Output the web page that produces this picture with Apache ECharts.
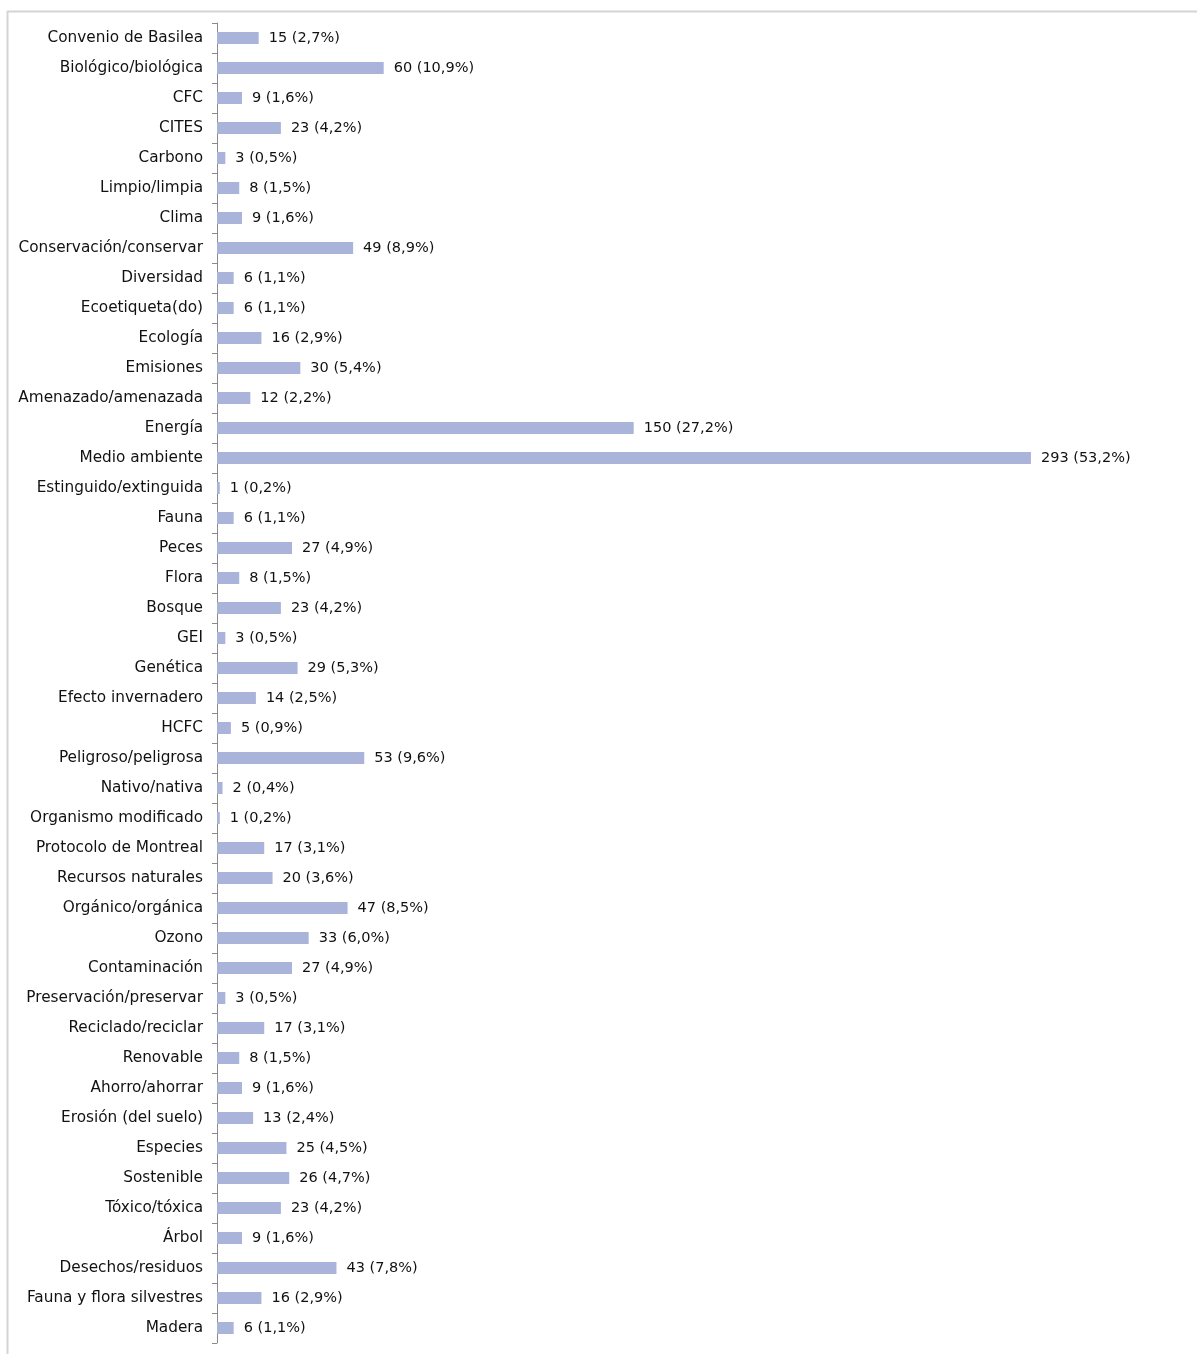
<!DOCTYPE html>
<html>
<head>
<meta charset="utf-8">
<script src="https://cdn.jsdelivr.net/npm/echarts@6/dist/echarts.min.js"></script>
<style>
html,body{margin:0;padding:0;background:#fff;}
#chart{width:1197px;height:1354px;}
</style>
</head>
<body>
<div id="chart"></div>
<script>
const categories = [
  "Convenio de Basilea","Biológico/biológica","CFC","CITES","Carbono","Limpio/limpia","Clima",
  "Conservación/conservar","Diversidad","Ecoetiqueta(do)","Ecología","Emisiones","Amenazado/amenazada",
  "Energía","Medio ambiente","Estinguido/extinguida","Fauna","Peces","Flora","Bosque","GEI","Genética",
  "Efecto invernadero","HCFC","Peligroso/peligrosa","Nativo/nativa","Organismo modificado",
  "Protocolo de Montreal","Recursos naturales","Orgánico/orgánica","Ozono","Contaminación",
  "Preservación/preservar","Reciclado/reciclar","Renovable","Ahorro/ahorrar","Erosión (del suelo)",
  "Especies","Sostenible","Tóxico/tóxica","Árbol","Desechos/residuos","Fauna y flora silvestres","Madera"
];
const counts = [15,60,9,23,3,8,9,49,6,6,16,30,12,150,293,1,6,27,8,23,3,29,14,5,53,2,1,17,20,47,33,27,3,17,8,9,13,25,26,23,9,43,16,6];
const percents = ["2,7","10,9","1,6","4,2","0,5","1,5","1,6","8,9","1,1","1,1","2,9","5,4","2,2","27,2","53,2","0,2","1,1","4,9","1,5","4,2","0,5","5,3","2,5","0,9","9,6","0,4","0,2","3,1","3,6","8,5","6,0","4,9","0,5","3,1","1,5","1,6","2,4","4,5","4,7","4,2","1,6","7,8","2,9","1,1"];

const chart = echarts.init(document.getElementById('chart'));
const FONT = 'DejaVu Sans, Verdana, sans-serif';
chart.setOption({
  animation: false,
  backgroundColor: '#fff',
  graphic: [
    {type:'line', shape:{x1:7,y1:11.5,x2:1197,y2:11.5}, style:{stroke:'#d4d4d4', lineWidth:2}},
    {type:'line', shape:{x1:7.5,y1:11,x2:7.5,y2:1354}, style:{stroke:'#d4d4d4', lineWidth:2}}
  ],
  grid: {left: 217, top: 23, width: 972.3, height: 1320, containLabel: false},
  xAxis: {type:'value', min:0, max:350, show:false},
  yAxis: {
    type:'category', inverse:true, data: categories,
    axisLine:{show:true, lineStyle:{color:'#8a8a8a', width:1}},
    axisTick:{show:true, length:5, lineStyle:{color:'#8a8a8a'}},
    axisLabel:{color:'#111', fontSize:15.3, fontFamily:FONT, margin:14}
  },
  series: [{
    type:'bar', data: counts, barWidth: 12,
    itemStyle:{color:'#aab3d9'},
    label:{show:true, position:'right', distance:10, color:'#111', fontSize:14.5, fontFamily:FONT,
      formatter: p => p.value + ' (' + percents[p.dataIndex] + '%)'}
  }]
});
</script>
</body>
</html>
